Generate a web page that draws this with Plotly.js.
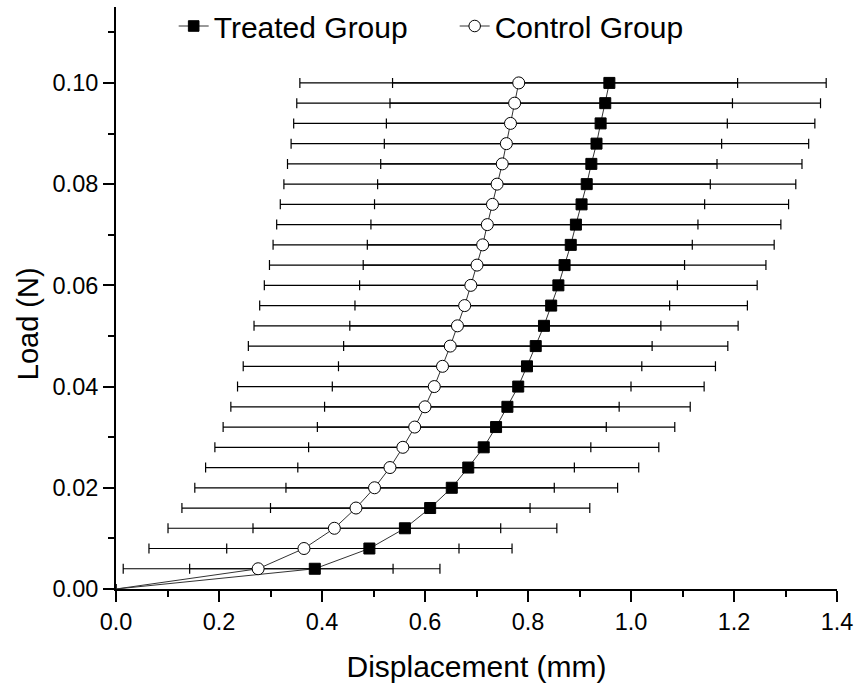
<!DOCTYPE html>
<html>
<head>
<meta charset="utf-8">
<script src="https://cdn.plot.ly/plotly-3.0.1.min.js"></script>
<style>
html,body{margin:0;padding:0;background:#fff;}
#chart{width:862px;height:690px;}
</style>
</head>
<body>
<div id="chart"></div>
<script>
// Load levels (N)
var loadN = [0, 0.004, 0.008, 0.012, 0.016, 0.020, 0.024, 0.028, 0.032, 0.036, 0.040, 0.044, 0.048,
             0.052, 0.056, 0.060, 0.064, 0.068, 0.072, 0.076, 0.080, 0.084, 0.088, 0.092, 0.096, 0.100];
// Treated group: mean displacement (mm) and SD
var treatedDisp = [0, 0.386, 0.492, 0.561, 0.610, 0.652, 0.684, 0.714, 0.738, 0.760, 0.781, 0.798, 0.815,
                   0.831, 0.845, 0.859, 0.871, 0.883, 0.893, 0.904, 0.914, 0.923, 0.933, 0.941, 0.950, 0.958];
var treatedErr = [null, 0.243, 0.277, 0.295, 0.310, 0.322, 0.331, 0.340, 0.347, 0.355, 0.361, 0.366, 0.373,
                  0.377, 0.381, 0.386, 0.391, 0.395, 0.398, 0.402, 0.406, 0.409, 0.412, 0.416, 0.418, 0.421];
// Control group: mean displacement (mm) and SD
var controlDisp = [0, 0.276, 0.365, 0.424, 0.466, 0.502, 0.532, 0.557, 0.580, 0.600, 0.618, 0.634, 0.649,
                   0.663, 0.677, 0.689, 0.701, 0.712, 0.721, 0.731, 0.740, 0.750, 0.758, 0.766, 0.774, 0.782];
var controlErr = [null, 0.262, 0.301, 0.323, 0.338, 0.349, 0.358, 0.365, 0.372, 0.377, 0.382, 0.387, 0.392,
                  0.395, 0.398, 0.401, 0.403, 0.407, 0.409, 0.412, 0.414, 0.417, 0.418, 0.421, 0.423, 0.425];
var seriesNames = ['Treated Group', 'Control Group'];
var xTickVals = [0, 0.2, 0.4, 0.6, 0.8, 1.0, 1.2, 1.4];
var xTickText = ['0.0', '0.2', '0.4', '0.6', '0.8', '1.0', '1.2', '1.4'];
var yTickVals = [0, 0.02, 0.04, 0.06, 0.08, 0.10];
var yTickText = ['0.00', '0.02', '0.04', '0.06', '0.08', '0.10'];

var FONT = '"Liberation Sans", Arial, sans-serif';
function sizes(arr, s){ return arr.map(function(v, i){ return i === 0 ? 0 : s; }); }

var traces = [
  {
    x: treatedDisp, y: loadN, name: seriesNames[0], type: 'scatter', mode: 'lines+markers',
    line: {color: '#333', width: 1},
    marker: {symbol: 'square', size: sizes(treatedDisp, 11), opacity: 1, color: '#000', line: {color: '#000', width: 1}},
    error_x: {type: 'data', array: treatedErr, symmetric: true, color: '#000', thickness: 1.2, width: 5}
  },
  {
    x: controlDisp, y: loadN, name: seriesNames[1], type: 'scatter', mode: 'lines+markers',
    line: {color: '#333', width: 1},
    marker: {symbol: 'circle', size: sizes(controlDisp, 12), opacity: 1, color: '#fff', line: {color: '#000', width: 1}},
    error_x: {type: 'data', array: controlErr, symmetric: true, color: '#000', thickness: 1.2, width: 5}
  }
];

var layout = {
  width: 862, height: 690,
  paper_bgcolor: '#fff', plot_bgcolor: '#fff',
  margin: {l: 116, r: 24.7, t: 6.7, b: 100.7, pad: 0, autoexpand: false},
  font: {family: FONT, color: '#000'},
  showlegend: true,
  legend: {
    orientation: 'h', xref: 'paper', yref: 'container', x: 0.08, y: 1.0, xanchor: 'left', yanchor: 'top',
    font: {family: FONT, size: 30, color: '#000'},
    bgcolor: 'rgba(0,0,0,0)', borderwidth: 0, tracegroupgap: 0, itemwidth: 30,
    entrywidth: 236, entrywidthmode: 'pixels'
  },
  xaxis: {
    range: [0, 1.4], tickvals: xTickVals, ticktext: xTickText, automargin: false,
    showgrid: false, zeroline: false, showline: true, linecolor: '#000', linewidth: 2, mirror: false,
    ticks: 'outside', ticklen: 11, tickwidth: 2, tickcolor: '#000',
    tickfont: {family: FONT, size: 23.5, color: '#000'},
    minor: {dtick: 0.1, tick0: 0, ticks: 'outside', ticklen: 6, tickwidth: 2, tickcolor: '#000', showgrid: false},
    title: {text: 'Displacement (mm)', font: {family: FONT, size: 30, color: '#000'}, standoff: 22}
  },
  yaxis: {
    range: [0, 0.115], tickvals: yTickVals, ticktext: yTickText, automargin: false,
    showgrid: false, zeroline: false, showline: true, linecolor: '#000', linewidth: 2, mirror: false,
    ticks: 'outside', ticklen: 11, tickwidth: 2, tickcolor: '#000',
    tickfont: {family: FONT, size: 23.5, color: '#000'},
    minor: {dtick: 0.01, tick0: 0, ticks: 'outside', ticklen: 6, tickwidth: 2, tickcolor: '#000', showgrid: false}
  },
  annotations: [
    {text: 'Load (N)', xref: 'paper', yref: 'paper', x: -0.122, y: 0.455, xanchor: 'center', yanchor: 'middle',
     textangle: -90, showarrow: false, font: {family: FONT, size: 29, color: '#000'}}
  ]
};

Plotly.newPlot('chart', traces, layout, {displayModeBar: false, staticPlot: true});
</script>
</body>
</html>
